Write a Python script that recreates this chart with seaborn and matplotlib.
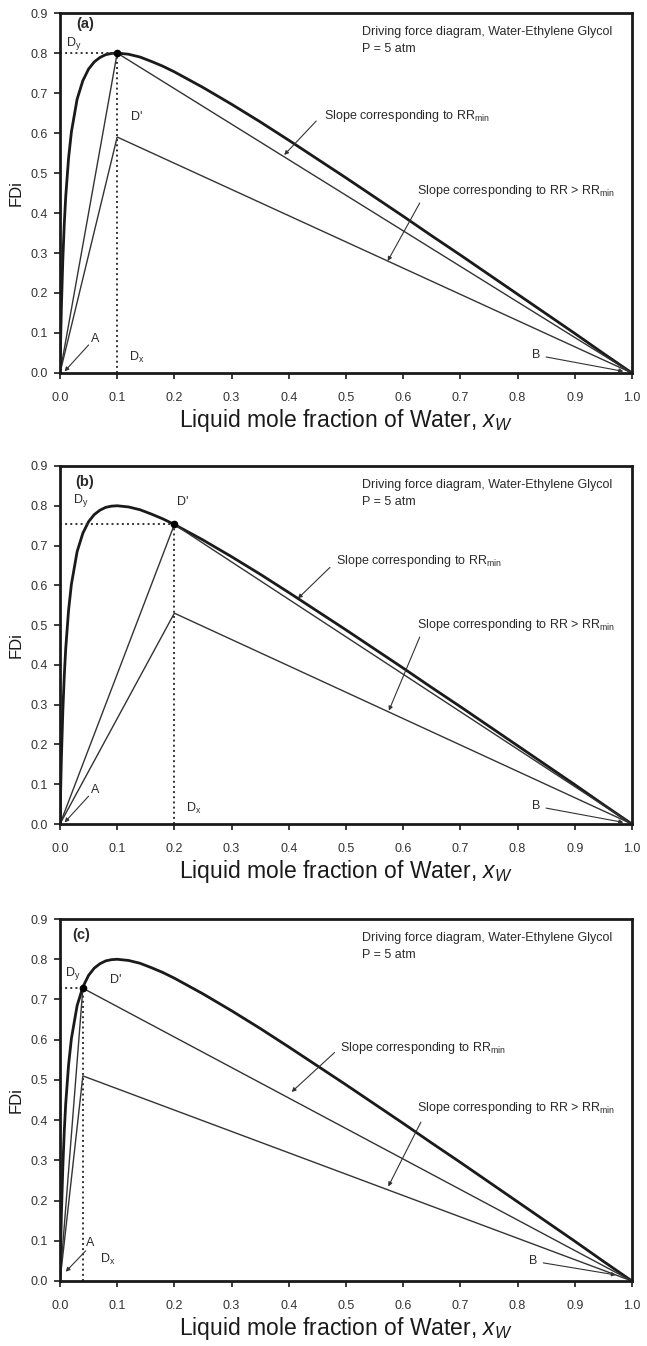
import numpy as np
import pandas as pd
import seaborn as sns
import matplotlib
matplotlib.use("Agg")
import matplotlib.pyplot as plt

# driving force curve
x_water = [0.0, 0.001, 0.0025, 0.005, 0.0075, 0.01, 0.015, 0.02, 0.03, 0.04,
           0.05, 0.06, 0.07, 0.08, 0.09, 0.10, 0.12, 0.14, 0.16, 0.18, 0.20,
           0.25, 0.30, 0.35, 0.40, 0.45, 0.50, 0.55, 0.60, 0.65, 0.70, 0.75,
           0.80, 0.85, 0.90, 0.95, 1.0]
fdi = [0.0, 0.074, 0.166, 0.284, 0.372, 0.440, 0.537, 0.603, 0.685, 0.731,
       0.760, 0.778, 0.789, 0.796, 0.799, 0.800, 0.797, 0.790, 0.779, 0.767, 0.753,
       0.714, 0.672, 0.628, 0.582, 0.535, 0.488, 0.440, 0.392, 0.343, 0.295, 0.246,
       0.197, 0.148, 0.099, 0.049, 0.0]

panels = ["(a)", "(b)", "(c)"]
d_x = [0.10, 0.20, 0.04]          # D' location (x)
d_y = [0.800, 0.753, 0.728]       # D' on curve (RRmin)
d_rr = [0.59, 0.53, 0.51]         # lower point (RR > RRmin)

x_ticks = [0.0, 0.1, 0.2, 0.3, 0.4, 0.5, 0.6, 0.7, 0.8, 0.9, 1.0]
y_ticks = [0.0, 0.1, 0.2, 0.3, 0.4, 0.5, 0.6, 0.7, 0.8, 0.9]

# label / arrow placement per panel (data coords)
place = [
    dict(lab=(0.028, 0.873), dy=(0.010, 0.825), dp=(0.125, 0.64), dx=(0.12, 0.04),
         a=(0.055, 0.085), a_tail=(0.05, 0.07), a_head=(0.008, 0.004),
         b=(0.825, 0.045), b_tail=(0.85, 0.04), b_head=(0.985, 0.004),
         rmin=(0.462, 0.642), rmin_tail=(0.448, 0.63), rmin_head=(0.392, 0.545),
         rr=(0.624, 0.456), rr_tail=(0.629, 0.425), rr_head=(0.573, 0.28)),
    dict(lab=(0.026, 0.861), dy=(0.022, 0.812), dp=(0.205, 0.81), dx=(0.22, 0.04),
         a=(0.055, 0.085), a_tail=(0.05, 0.07), a_head=(0.008, 0.004),
         b=(0.825, 0.045), b_tail=(0.85, 0.04), b_head=(0.985, 0.004),
         rmin=(0.482, 0.66), rmin_tail=(0.472, 0.645), rmin_head=(0.416, 0.567),
         rr=(0.624, 0.50), rr_tail=(0.629, 0.47), rr_head=(0.575, 0.285)),
    dict(lab=(0.022, 0.861), dy=(0.008, 0.765), dp=(0.088, 0.748), dx=(0.07, 0.054),
         a=(0.045, 0.095), a_tail=(0.045, 0.075), a_head=(0.01, 0.023),
         b=(0.82, 0.05), b_tail=(0.845, 0.045), b_head=(0.972, 0.015),
         rmin=(0.49, 0.58), rmin_tail=(0.48, 0.568), rmin_head=(0.405, 0.47),
         rr=(0.624, 0.43), rr_tail=(0.631, 0.395), rr_head=(0.574, 0.235)),
]

sns.set_theme(style="ticks")
plt.rcParams["font.family"] = ["Liberation Sans", "DejaVu Sans"]
plt.rcParams["mathtext.fontset"] = "custom"
plt.rcParams["mathtext.rm"] = "Liberation Sans"
plt.rcParams["mathtext.it"] = "Liberation Sans:italic"

curve = pd.DataFrame({"x": x_water, "FDi": fdi})

fig = plt.figure(figsize=(6.47, 13.46), dpi=100)
boxes = [[0.0927, 0.7229, 0.884, 0.2674],
         [0.0927, 0.3878, 0.884, 0.2660],
         [0.0927, 0.0483, 0.884, 0.2689]]

ink = "#1a1a1a"
txt = "#2a2a2a"
arrow = dict(arrowstyle="-|>", lw=0.8, color="#333333", mutation_scale=6,
             shrinkA=0, shrinkB=0)

for i in range(3):
    ax = fig.add_axes(boxes[i])
    p = place[i]

    sns.lineplot(data=curve, x="x", y="FDi", ax=ax, color=ink, lw=2.0, sort=False)
    op_min = pd.DataFrame({"x": [0.0, d_x[i], 1.0], "FDi": [0.0, d_y[i], 0.0]})
    op_rr = pd.DataFrame({"x": [0.0, d_x[i], 1.0], "FDi": [0.0, d_rr[i], 0.0]})
    sns.lineplot(data=op_min, x="x", y="FDi", ax=ax, color="#333333", lw=1.0, sort=False)
    sns.lineplot(data=op_rr, x="x", y="FDi", ax=ax, color="#333333", lw=1.0, sort=False)

    # dotted guides to D'
    ax.plot([0, d_x[i]], [d_y[i], d_y[i]], ls=":", lw=1.4, color="#333333")
    ax.plot([d_x[i], d_x[i]], [0, d_y[i]], ls=":", lw=1.4, color="#333333")
    ax.plot([d_x[i]], [d_y[i]], "o", ms=4.5, color="black")

    ax.text(*p["lab"], panels[i], fontsize=10.5, fontweight="bold", color=txt,
            ha="left", va="center")
    ax.text(*p["dy"], r"D$_\mathrm{y}$", fontsize=9, color=txt, ha="left", va="center")
    ax.text(*p["dp"], "D'", fontsize=9, color=txt, ha="left", va="center")
    ax.text(*p["dx"], r"D$_\mathrm{x}$", fontsize=9, color=txt, ha="left", va="center")

    ax.text(0.528, 0.852, "Driving force diagram, Water-Ethylene Glycol",
            fontsize=9, color=txt, ha="left", va="center")
    ax.text(0.528, 0.810, "P = 5 atm", fontsize=9, color=txt, ha="left", va="center")

    ax.text(*p["a"], "A", fontsize=9, color=txt, ha="left", va="center")
    ax.annotate("", xy=p["a_head"], xytext=p["a_tail"], arrowprops=arrow)
    ax.text(*p["b"], "B", fontsize=9, color=txt, ha="left", va="center")
    ax.annotate("", xy=p["b_head"], xytext=p["b_tail"], arrowprops=arrow)

    ax.text(*p["rmin"], r"Slope corresponding to RR$_\mathrm{min}$",
            fontsize=9, color=txt, ha="left", va="center")
    ax.annotate("", xy=p["rmin_head"], xytext=p["rmin_tail"], arrowprops=arrow)
    ax.text(*p["rr"], r"Slope corresponding to RR > RR$_\mathrm{min}$",
            fontsize=9, color=txt, ha="left", va="center")
    ax.annotate("", xy=p["rr_head"], xytext=p["rr_tail"], arrowprops=arrow)

    ax.set_xlim(0, 1.0)
    ax.set_ylim(0, 0.9)
    ax.set_xticks(x_ticks)
    ax.set_yticks(y_ticks)
    ax.set_xticklabels([f"{v:.1f}" for v in x_ticks])
    ax.set_yticklabels([f"{v:.1f}" for v in y_ticks])
    ax.tick_params(direction="out", length=4, width=1.2, labelsize=9,
                   labelcolor="#333333", color=ink)
    ax.tick_params(axis="x", pad=10)
    ax.tick_params(axis="y", pad=5)
    for s in ax.spines.values():
        s.set_visible(True)
        s.set_linewidth(2.0)
        s.set_color(ink)
    ax.set_xlabel(r"Liquid mole fraction of Water, $x_W$", fontsize=16.5,
                  color=ink, labelpad=2)
    ax.set_ylabel("FDi", fontsize=12, color=ink, labelpad=5)

fig.savefig("out.png", dpi=100)
